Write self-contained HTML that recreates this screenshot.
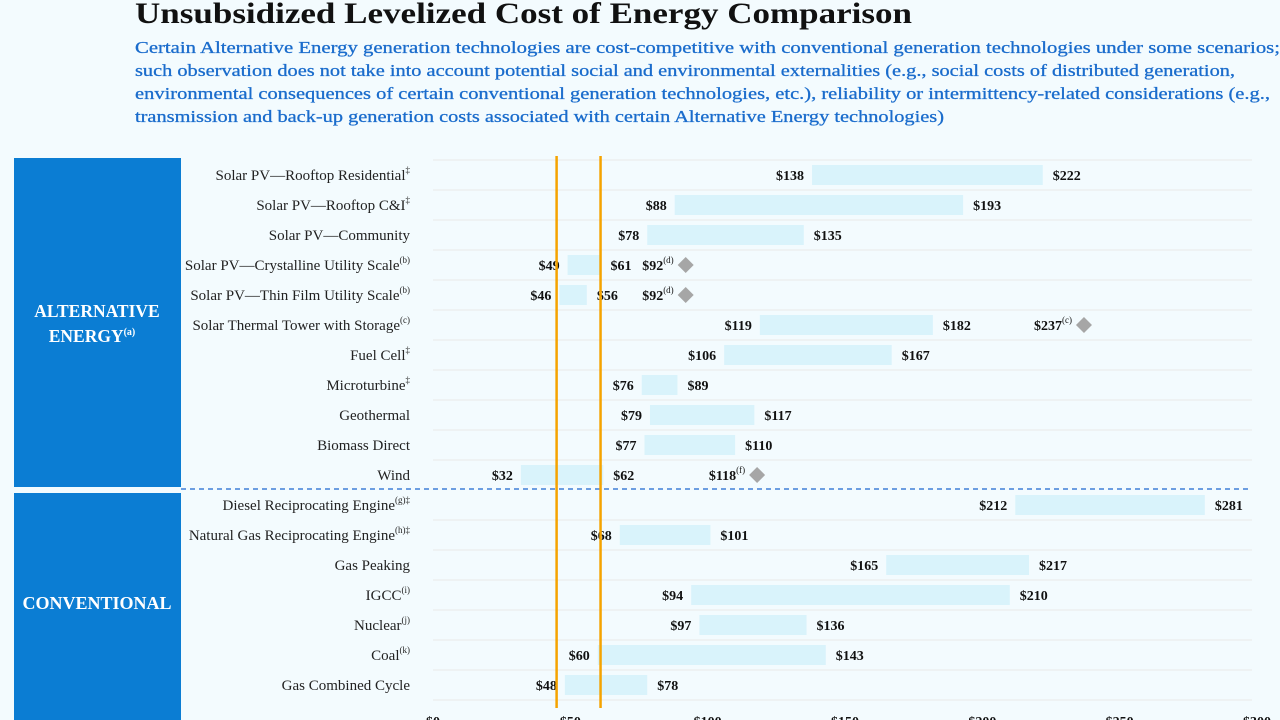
<!DOCTYPE html>
<html><head><meta charset="utf-8"><style>
body{margin:0;background:#f3fbfe;}
svg{display:block;font-family:"Liberation Serif",serif;}
</style></head><body>
<svg id="c" width="1280" height="720">
<rect width="1280" height="720" fill="#f3fbfe"/>
<text x="135" y="23" font-size="30" font-weight="bold" fill="#111" textLength="777" lengthAdjust="spacingAndGlyphs">Unsubsidized Levelized Cost of Energy Comparison</text>
<g font-size="17" fill="#1a6ccc" stroke="#1a6ccc" stroke-width="0.3">
<text x="135" y="53" textLength="1145" lengthAdjust="spacingAndGlyphs">Certain Alternative Energy generation technologies are cost-competitive with conventional generation technologies under some scenarios;</text>
<text x="135" y="76" textLength="1100" lengthAdjust="spacingAndGlyphs">such observation does not take into account potential social and environmental externalities (e.g., social costs of distributed generation,</text>
<text x="135" y="99" textLength="1135" lengthAdjust="spacingAndGlyphs">environmental consequences of certain conventional generation technologies, etc.), reliability or intermittency-related considerations (e.g.,</text>
<text x="135" y="122" textLength="809" lengthAdjust="spacingAndGlyphs">transmission and back-up generation costs associated with certain Alternative Energy technologies)</text>
</g>
<rect x="14" y="158" width="167" height="329" fill="#0b7dd3"/>
<rect x="14" y="493" width="167" height="227" fill="#0b7dd3"/>
<text x="97" y="317" fill="#fff" font-size="17.5" font-weight="bold" text-anchor="middle">ALTERNATIVE</text>
<text x="92" y="342" fill="#fff" font-size="17.5" font-weight="bold" text-anchor="middle">ENERGY<tspan font-size="10" dy="-7">(a)</tspan></text>
<text x="97" y="609" fill="#fff" font-size="18" font-weight="bold" text-anchor="middle">CONVENTIONAL</text>
<g id="plot"></g>
</svg>
<script>
const categories=["Solar PV—Rooftop Residential","Solar PV—Rooftop C&I","Solar PV—Community","Solar PV—Crystalline Utility Scale","Solar PV—Thin Film Utility Scale","Solar Thermal Tower with Storage","Fuel Cell","Microturbine","Geothermal","Biomass Direct","Wind","Diesel Reciprocating Engine","Natural Gas Reciprocating Engine","Gas Peaking","IGCC","Nuclear","Coal","Gas Combined Cycle"];
const notes=["‡","‡","","(b)","(b)","(c)","‡","‡","","","","(g)‡","(h)‡","","(i)","(j)","(k)",""];
const lowValues=[138,88,78,49,46,119,106,76,79,77,32,212,68,165,94,97,60,48];
const highValues=[222,193,135,61,56,182,167,89,117,110,62,281,101,217,210,136,143,78];
const diamondValues=[null,null,null,92,92,237,null,null,null,null,118,null,null,null,null,null,null,null];
const diamondNotes=["","","","(d)","(d)","(c)","","","","","(f)","","","","","","",""];
const referenceLines=[45,61];
const xTicks=[0,50,100,150,200,250,300];
const NS="http://www.w3.org/2000/svg";
const g=document.getElementById('plot');
const x=v=>433+v*(1257-433)/300;
const y=i=>175+i*30;
function mk(t,a,txt){const e=document.createElementNS(NS,t);for(const k in a)e.setAttribute(k,a[k]);if(txt!=null)e.textContent=txt;g.appendChild(e);return e;}
for(let i=0;i<=categories.length;i++){
  if(i===11)continue;
  const l=mk('line',{x1:433,x2:1252,y1:y(i)-15,y2:y(i)-15,stroke:'#e8e8e8','stroke-width':1});
  
  
}
const d=mk('line',{x1:181,x2:1252,y1:489,y2:489,stroke:'#1c66d0','stroke-width':1.3,'stroke-dasharray':'5,4'});


categories.forEach((c,i)=>{
  const t=mk('text',{x:410,y:y(i)+5,'font-size':15,'text-anchor':'end',fill:'#222'});
  t.textContent=c;
  if(notes[i]){const s=document.createElementNS(NS,'tspan');s.setAttribute('font-size','9');s.setAttribute('dy','-7');s.textContent=notes[i];t.appendChild(s);}
  
  
  const b=mk('rect',{x:x(lowValues[i]),y:y(i)-10,width:x(highValues[i])-x(lowValues[i]),height:20,fill:'#d9f3fb'});
  
  
  const lo=mk('text',{x:x(lowValues[i])-8,y:y(i)+5,'font-size':14,'font-weight':'bold','text-anchor':'end',fill:'#111'},'$'+lowValues[i]);
  
  
  const hi=mk('text',{x:x(highValues[i])+10,y:y(i)+5,'font-size':14,'font-weight':'bold',fill:'#111'},'$'+highValues[i]);
  
  
  if(diamondValues[i]!=null){
    const cx=x(diamondValues[i]),cy=y(i);
    const p=mk('polygon',{points:`${cx},${cy-8} ${cx+8},${cy} ${cx},${cy+8} ${cx-8},${cy}`,fill:'#a6a6a6'});
    
    
    const t2=mk('text',{x:cx-12,y:cy+5,'font-size':14,'font-weight':'bold','text-anchor':'end',fill:'#111'});
    t2.textContent='$'+diamondValues[i];
    const s=document.createElementNS(NS,'tspan');s.setAttribute('font-size','9');s.setAttribute('font-weight','normal');s.setAttribute('dy','-7');s.textContent=diamondNotes[i];t2.appendChild(s);
    
    
  }
});
referenceLines.forEach(v=>{
  const l=mk('line',{x1:x(v),x2:x(v),y1:156,y2:708,stroke:'#f5a300','stroke-width':2.5});
  
  
});
xTicks.forEach(v=>{
  const t=mk('text',{x:x(v),y:726,'font-size':14,'font-weight':'bold','text-anchor':'middle',fill:'#111'},'$'+v);
  
  
});
</script>
</body></html>
